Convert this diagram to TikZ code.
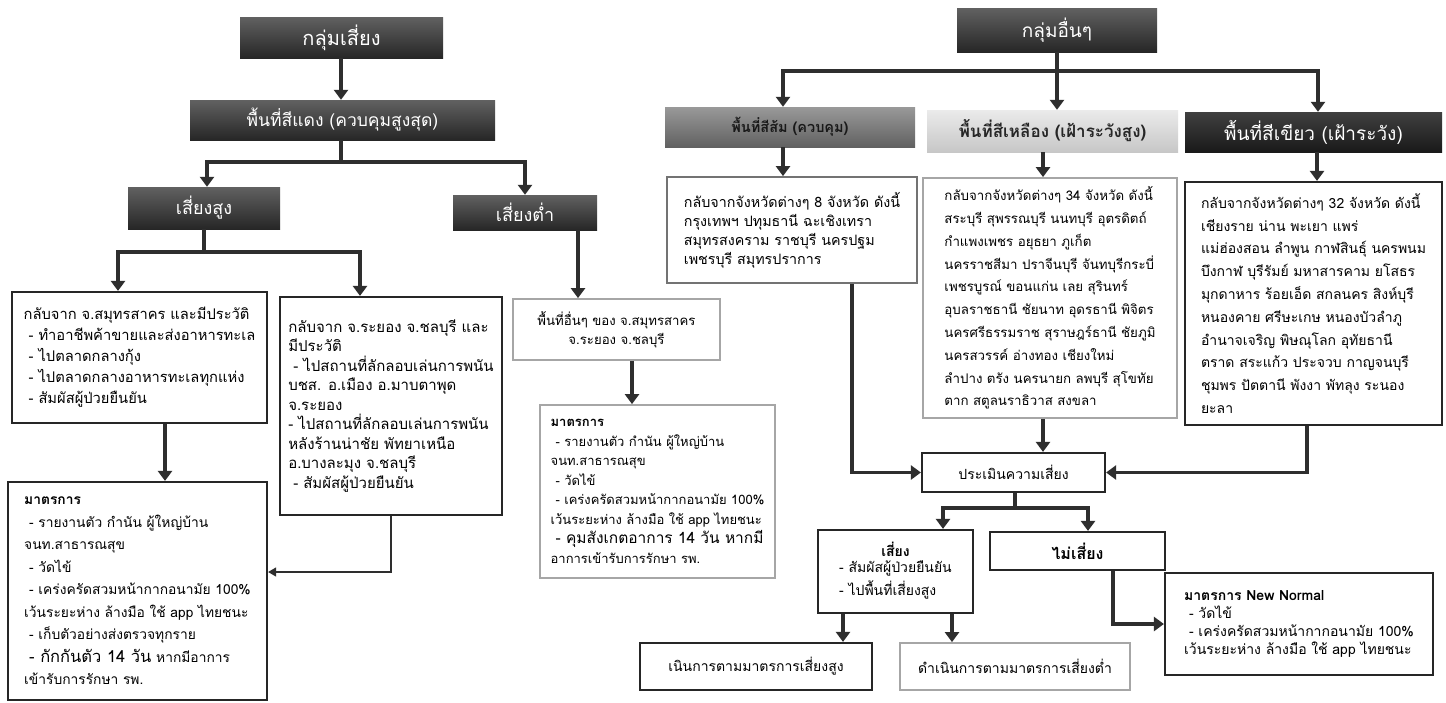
\documentclass[tikz,border=0pt]{standalone}
\usepackage{fontspec}
\newfontfamily\thai[Script=Thai]{Loma}
\usetikzlibrary{arrows.meta}
\newcommand\myind{\hspace*{5pt}}
\newcommand\myfs[2]{\fontsize{#1}{#2}\selectfont}
\begin{document}
\begin{tikzpicture}[x=1pt,y=-1pt,
  hdr/.style={draw=none, top color=black!62, bottom color=black!85, text=white,
    font=\thai\myfs{18}{20}, inner sep=0pt},
  hdrmid/.style={hdr, top color=black!40, bottom color=black!62, text=black!90,
    font=\thai\bfseries\myfs{14.5}{18}},
  hdrlight/.style={hdr, top color=black!8, bottom color=black!22, text=black!85,
    font=\thai\bfseries\myfs{17}{20}},
  tb/.style={draw=black!85, line width=2.2pt, fill=white,
    font=\thai\myfs{14}{21}, align=left, inner xsep=7pt, inner ysep=3pt},
  lb/.style={tb, draw=black!35, line width=1.8pt},
  mb/.style={tb, draw=black!55, line width=1.8pt},
  arr/.style={line width=3.2pt, draw=black!82, -{Triangle[width=14pt,length=10pt]}},
  ln/.style={line width=3.2pt, draw=black!82},
  tarr/.style={line width=1.2pt, draw=black!82, -{Triangle[width=9pt,length=8pt]}}
]
\useasboundingbox[fill=white] (0,0) rectangle (1446,702);

% ---------- left group ----------
\node[hdr, font=\thai\myfs{20}{22}, minimum width=203pt, minimum height=41pt] (L0) at (341.5,37.5) {กลุ่มเสี่ยง};
\node[hdr, font=\thai\myfs{17.5}{20}, minimum width=305pt, minimum height=40pt] (L1) at (342.5,120) {พื้นที่สีแดง (ควบคุมสูงสุด)};
\node[hdr, minimum width=152pt, minimum height=42pt] (L2) at (204,208) {เสี่ยงสูง};
\node[hdr, minimum width=144pt, minimum height=35pt] (L3) at (525,212.5) {เสี่ยงต่ำ};

\node[tb, font=\thai\myfs{14.7}{21}, minimum width=255pt, minimum height=131pt] (B1) at (139.5,357.5) {%
กลับจาก จ.สมุทรสาคร และมีประวัติ\\
\myind- ทำอาชีพค้าขายและส่งอาหารทะเล\\
\myind- ไปตลาดกลางกุ้ง\\
\myind- ไปตลาดกลางอาหารทะเลทุกแห่ง\\
\myind- สัมผัสผู้ป่วยยืนยัน};

\node[tb, font=\thai\myfs{15}{19.5}, minimum width=222pt, minimum height=218pt] (B2) at (391,406) {%
กลับจาก จ.ระยอง จ.ชลบุรี และ\\
มีประวัติ\\
\myind- ไปสถานที่ลักลอบเล่นการพนัน\\
บชส. อ.เมือง อ.มาบตาพุด\\
จ.ระยอง\\
- ไปสถานที่ลักลอบเล่นการพนัน\\
หลังร้านน่าชัย พัทยาเหนือ\\
อ.บางละมุง จ.ชลบุรี\\
\myind- สัมผัสผู้ป่วยยืนยัน};

\node[tb, font=\thai\myfs{13.8}{22.5}, minimum width=259pt, minimum height=218pt] (M1) at (137.5,591) {%
\textbf{มาตรการ}\\
\myind- รายงานตัว กำนัน ผู้ใหญ่บ้าน\\
จนท.สาธารณสุข\\
\myind- วัดไข้\\
\myind- เคร่งครัดสวมหน้ากากอนามัย 100\%\\
เว้นระยะห่าง ล้างมือ ใช้ app ไทยชนะ\\
\myind- เก็บตัวอย่างส่งตรวจทุกราย\\
\myind{\myfs{16.5}{22.5}- กักกันตัว 14 วัน} หากมีอาการ\\
เข้ารับการรักษา รพ.};

\node[lb, font=\thai\myfs{13.2}{19}, minimum width=207pt, minimum height=61pt, align=center] (B3) at (616.5,329.5) {%
พื้นที่อื่นๆ ของ จ.สมุทรสาคร\\ จ.ระยอง จ.ชลบุรี};

\node[lb, font=\thai\myfs{13}{19.5}, minimum width=235pt, minimum height=173pt] (M2) at (657.5,491.5) {%
\textbf{มาตรการ}\\
\myind- รายงานตัว กำนัน ผู้ใหญ่บ้าน\\
จนท.สาธารณสุข\\
\myind- วัดไข้\\
\myind- เคร่งครัดสวมหน้ากากอนามัย 100\%\\
เว้นระยะห่าง ล้างมือ ใช้ app ไทยชนะ\\
\myind{\myfs{15.5}{19.5}- คุมสังเกตอาการ 14 วัน หากมี}\\
อาการเข้ารับการรักษา รพ.};

% ---------- right group ----------
\node[hdr, font=\thai\myfs{19}{22}, minimum width=200pt, minimum height=44pt] (R0) at (1057,30) {กลุ่มอื่นๆ};
\node[hdrmid, minimum width=250pt, minimum height=40pt] (R1) at (790,127) {พื้นที่สีส้ม (ควบคุม)};
\node[hdrlight, minimum width=251pt, minimum height=42pt] (R2) at (1052.5,131) {พื้นที่สีเหลือง (เฝ้าระวังสูง)};
\node[hdr, font=\thai\myfs{19}{22}, top color=black!75, bottom color=black!90, minimum width=257pt, minimum height=40pt] (R3) at (1313.5,132) {พื้นที่สีเขียว (เฝ้าระวัง)};

\node[mb, font=\thai\myfs{14.3}{19}, minimum width=250pt, minimum height=106pt] (T1) at (792,230) {%
กลับจากจังหวัดต่างๆ 8 จังหวัด ดังนี้\\
กรุงเทพฯ ปทุมธานี ฉะเชิงเทรา\\
สมุทรสงคราม ราชบุรี นครปฐม\\
เพชรบุรี สมุทรปราการ\hspace*{70pt}};

\node[lb, font=\thai\myfs{13.3}{22.8}, minimum width=254pt, minimum height=240pt] (T2) at (1050,298) {%
กลับจากจังหวัดต่างๆ 34 จังหวัด ดังนี้\\
สระบุรี สุพรรณบุรี นนทบุรี อุตรดิตถ์\\
กำแพงเพชร อยุธยา ภูเก็ต\\
นครราชสีมา ปราจีนบุรี จันทบุรีกระบี่\\
เพชรบูรณ์ ขอนแก่น เลย สุรินทร์\\
อุบลราชธานี ชัยนาท อุดรธานี พิจิตร\\
นครศรีธรรมราช สุราษฎร์ธานี ชัยภูมิ\\
นครสวรรค์ อ่างทอง เชียงใหม่\\
ลำปาง ตรัง นครนายก ลพบุรี สุโขทัย\\
ตาก สตูลนราธิวาส สงขลา};

\node[tb, font=\thai\myfs{14}{22.8}, minimum width=257pt, minimum height=243pt] (T3) at (1313.5,303.5) {%
กลับจากจังหวัดต่างๆ 32 จังหวัด ดังนี้\\
เชียงราย น่าน พะเยา แพร่\\
แม่ฮ่องสอน ลำพูน กาฬสินธุ์ นครพนม\\
บึงกาฬ บุรีรัมย์ มหาสารคาม ยโสธร\\
มุกดาหาร ร้อยเอ็ด สกลนคร สิงห์บุรี\\
หนองคาย ศรีษะเกษ หนองบัวลำภู\\
อำนาจเจริญ พิษณุโลก อุทัยธานี\\
ตราด สระแก้ว ประจวบ กาญจนบุรี\\
ชุมพร ปัตตานี พังงา พัทลุง ระนอง\\
ยะลา};

\node[tb, minimum width=183pt, minimum height=39pt, align=center] (P) at (1013.5,472.5) {ประเมินความเสี่ยง};
\node[tb, font=\thai\myfs{14}{20}, minimum width=155pt, minimum height=83pt, align=center] (S) at (895.5,571.5) {%
\textbf{เสี่ยง}\\[1pt]
\begin{tabular}{@{}l@{}}- สัมผัสผู้ป่วยยืนยัน\\[2pt]- ไปพื้นที่เสี่ยงสูง\end{tabular}};
\node[tb, font=\thai\bfseries\myfs{16}{20}, minimum width=175pt, minimum height=38pt, align=center] (N) at (1077.5,551) {ไม่เสี่ยง};
\node[tb, font=\thai\myfs{14}{18}, minimum width=268pt, minimum height=102pt] (NN) at (1299,624) {%
\textbf{มาตรการ New Normal}\\
\myind- วัดไข้\\
\myind- เคร่งครัดสวมหน้ากากอนามัย 100\%\\
เว้นระยะห่าง ล้างมือ ใช้ app ไทยชนะ};
\node[tb, minimum width=232pt, minimum height=47pt, align=center] (D1) at (756,666.5) {เนินการตามมาตรการเสี่ยงสูง};
\node[lb, minimum width=230pt, minimum height=47pt, align=center] (D2) at (1015,666.5) {ดำเนินการตามมาตรการเสี่ยงต่ำ};

% ---------- connectors: left ----------
\coordinate (j1) at (341,162);
\coordinate (j2) at (204,252);
\draw[arr] (L0.south -| 341,0) -- (L1.north -| 341,0);
\draw[ln] (L1.south -| 341,0) -- (j1);
\draw[arr] (j1) -| (L2.north -| 207,0);
\draw[arr] (j1) -| (L3.north);
\draw[ln] (L2.south) -- (j2);
\draw[arr] (j2) -| (B1.north -| 118,0);
\draw[arr] (j2) -| (B2.north -| 360,0);
\draw[arr] (L3.south -| 578,0) -- (B3.north -| 578,0);
\draw[arr] (B3.south -| 632,0) -- (M2.north -| 632,0);
\draw[arr] (B1.south -| 165,0) -- (M1.north -| 165,0);
\draw[tarr] (B2.south) |- (M1.east |- 0,572);

% ---------- connectors: right ----------
\coordinate (j3) at (1057,71);
\coordinate (j4) at (1015,508);
\draw[ln] (R0.south -| 1057,0) -- (j3);
\draw[arr] (j3) -| (R1.north -| 783,0);
\draw[arr] (j3) -- (R2.north -| 1057,0);
\draw[arr] (j3) -| (R3.north -| 1318,0);
\draw[arr] (R1.south -| 783,0) -- (T1.north -| 783,0);
\draw[arr] (R2.south -| 1043,0) -- (T2.north -| 1043,0);
\draw[arr] (R3.south -| 1317,0) -- (T3.north -| 1317,0);
\draw[arr] (T1.south -| 852,0) |- (P.west);
\draw[arr] (T2.south -| 1043,0) -- (P.north -| 1043,0);
\draw[arr] (T3.south -| 1307,0) |- (P.east);
\draw[ln] (P.south -| 1015,0) -- (j4);
\draw[arr] (j4) -| (S.north -| 943,0);
\draw[arr] (j4) -| (N.north -| 1088,0);
\draw[arr] (N.south -| 1113,0) |- (NN.west);
\draw[arr] (S.south -| 843,0) -- (D1.north -| 843,0);
\draw[arr] (S.south -| 952,0) -- (D2.north -| 952,0);
\end{tikzpicture}
\end{document}
